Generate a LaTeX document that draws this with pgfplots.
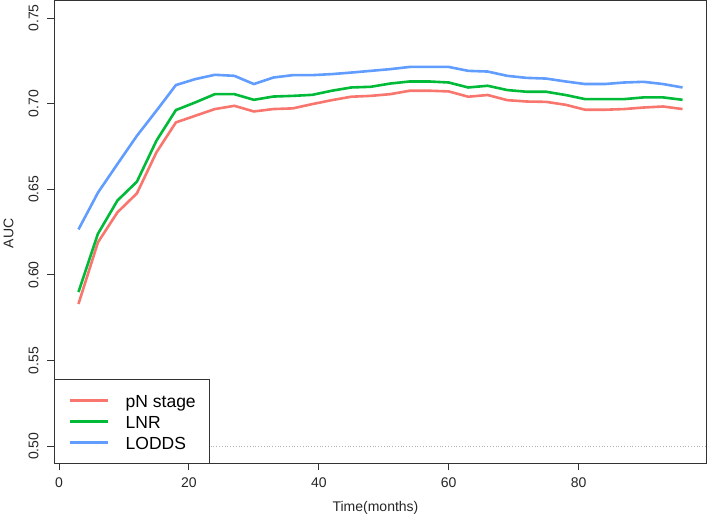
\documentclass[border=0pt]{standalone}
\usepackage{pgfplots}
\pgfplotsset{compat=1.18}
\usepackage{pgfplotstable}
\usepackage{fontspec}
\setmainfont{Liberation Sans}
\definecolor{cred}{HTML}{F8766D}
\definecolor{cgreen}{HTML}{00BA38}
\definecolor{cblue}{HTML}{619CFF}
\pgfplotstableread{
m red green blue
3 0.583 0.590 0.6265
6 0.619 0.624 0.648
9 0.6365 0.6434 0.6647
12 0.6476 0.6544 0.6812
15 0.6715 0.6783 0.6958
18 0.689 0.6962 0.7108
21 0.6929 0.7007 0.7143
24 0.6968 0.7055 0.7168
27 0.6987 0.7055 0.7162
30 0.6954 0.7022 0.7114
33 0.6968 0.7041 0.7152
36 0.6972 0.7045 0.7166
39 0.6997 0.7051 0.7166
42 0.7020 0.7075 0.7172
45 0.7040 0.7094 0.7181
48 0.7045 0.7098 0.7191
51 0.7055 0.7117 0.7201
54 0.7075 0.7129 0.7214
57 0.7075 0.7129 0.7214
60 0.7071 0.7123 0.7214
63 0.7040 0.7094 0.7191
66 0.7050 0.7104 0.7187
69 0.7020 0.7079 0.7162
72 0.7012 0.7069 0.7150
75 0.7010 0.7069 0.7146
78 0.6993 0.7050 0.7129
81 0.6964 0.7026 0.7114
84 0.6964 0.7026 0.7114
87 0.6968 0.7026 0.7123
90 0.6977 0.7036 0.7127
93 0.6983 0.7036 0.7114
96 0.6968 0.7022 0.7094
}\datatable
\begin{document}
\begin{tikzpicture}
\path[use as bounding box] (-54.3bp,-50.7bp) rectangle (654.7bp,463.3bp);
\begin{axis}[
  scale only axis,
  width=652.4bp, height=462.5bp,
  xmin=-0.72, xmax=99.72, ymin=0.49, ymax=0.76,
  xtick={0,20,40,60,80},
  ytick={0.50,0.55,0.60,0.65,0.70,0.75},
  yticklabel style={/pgf/number format/fixed,/pgf/number format/fixed zerofill,/pgf/number format/precision=2},
  /pgf/number format/assume math mode=true,
  tick align=outside, major tick length=7bp,
  xtick pos=bottom, ytick pos=left,
  tick style={black!80, line width=0.8bp},
  axis line style={black!80, line width=0.8bp},
  ticklabel style={font=\fontsize{14bp}{16bp}\selectfont, text=black!85, inner sep=0pt},
  xticklabel style={anchor=north},
  yticklabel style={rotate=90, anchor=base},
  xticklabel shift=7bp,
  yticklabel shift=9bp,
  xlabel={Time(months)},
  ylabel={AUC},
  label style={font=\fontsize{14bp}{16bp}\selectfont, text=black!85, inner sep=0pt},
  xlabel style={at={(axis description cs:0.4923,-0.1045)}, anchor=base},
  ylabel style={at={(axis description cs:-0.0629,0.497)}, anchor=base, rotate=0},
  legend cell align=left,
  legend style={at={(0,0)}, anchor=south west, draw=black!80, line width=0.8bp, fill=white,
    font=\fontsize{17.5bp}{21bp}\selectfont, inner xsep=14bp, inner ysep=10bp,
    row sep=0pt, column sep=16bp,
    nodes={inner sep=0pt, text height=18bp, text depth=3bp}},
  legend image code/.code={\path (-2.7bp,0) -- (0,0); \draw[#1] (0bp,0bp) -- (35.7bp,0bp);},
]
\addplot[gray!60, dotted, line width=0.8bp, forget plot] coordinates {(-0.72,0.5) (99.72,0.5)};
\addplot[cred, line width=2.6bp] table[x=m, y=red] {\datatable};
\addplot[cgreen, line width=2.6bp] table[x=m, y=green] {\datatable};
\addplot[cblue, line width=2.6bp] table[x=m, y=blue] {\datatable};
\legend{pN stage, LNR, LODDS}
\end{axis}
\end{tikzpicture}
\end{document}
